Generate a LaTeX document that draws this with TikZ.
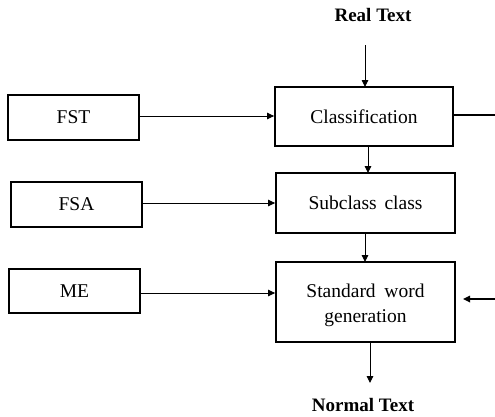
\documentclass[tikz,border=0pt]{standalone}
\usepackage{fontspec}
\setmainfont{Liberation Serif}
\usetikzlibrary{arrows.meta}
\begin{document}
\begin{tikzpicture}[x=1pt,y=-1pt,
  box/.style={draw,line width=1.8pt,inner sep=0pt,align=center,font=\fontsize{19.5}{25}\selectfont},
  txt/.style={inner sep=0pt,align=center,font=\fontsize{19.5}{25}\selectfont},
  lbl/.style={inner sep=0pt,font=\fontsize{19}{23}\selectfont\bfseries},
  conn/.style={line width=0.9pt,-{Triangle[length=7pt,width=6.5pt]}},
  thick conn/.style={line width=1.6pt,-{Triangle[length=7pt,width=6.5pt]}}]
\useasboundingbox (0,0) rectangle (495,416);
% main column
\node[box,minimum width=178pt,minimum height=59pt] (cls) at (364,116.5) {Classification};
\node[box,minimum width=179pt,minimum height=60pt] (sub) at (365.5,203) {Subclass\hspace{0.4em}class};
\node[box,minimum width=179pt,minimum height=80pt] (swg) at (365.5,302) {};
\node[txt] (swgtext) at (365.5,305) {Standard\hspace{0.45em}word\\generation};
% left column
\node[box,minimum width=131pt,minimum height=45pt] (fst) at (73.5,117.5) {FST};
\node[box,minimum width=131pt,minimum height=45pt] (fsa) at (76.5,204.5) {FSA};
\node[box,minimum width=131pt,minimum height=44pt] (me) at (74.5,291) {ME};
% labels
\node[lbl] (real) at (373,15) {Real Text};
\node[lbl] (norm) at (363,405) {Normal Text};
% edge coordinates
\coordinate (rtop) at (495,115);
\coordinate (rbot) at (495,299);
\coordinate (rtip) at (463,299);
% connectors
\draw[conn] (365,45) -- (365,87);
\draw[conn] (fst.east |- 0,116) -- (cls.west |- 0,116);
\draw[conn] (fsa.east |- 0,203) -- (sub.west |- 0,203);
\draw[conn] (me.east |- 0,293) -- (swg.west |- 0,293);
\draw[conn] (368,146) -- (368,173);
\draw[conn] (365,233) -- (365,262);
\draw[conn] (370,342) -- (370,383);
\draw[line width=1.6pt] (cls.east |- rtop) -- (rtop);
\draw[thick conn] (rbot) -- (rtip);
\end{tikzpicture}
\end{document}
